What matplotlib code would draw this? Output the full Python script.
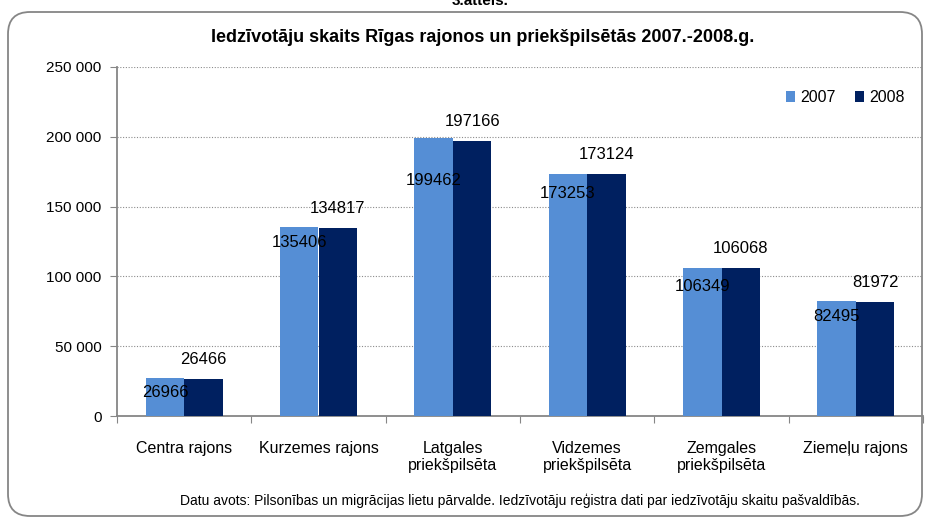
import numpy as np
import matplotlib.pyplot as plt
from matplotlib import font_manager
from matplotlib.patches import FancyBboxPatch

categories = ["Centra rajons", "Kurzemes rajons", "Latgales\npriekšpilsēta",
              "Vidzemes\npriekšpilsēta", "Zemgales\npriekšpilsēta", "Ziemeļu rajons"]
v2007 = [26966, 135406, 199462, 173253, 106349, 82495]
v2008 = [26466, 134817, 197166, 173124, 106068, 81972]
yticks = [0, 50000, 100000, 150000, 200000, 250000]

# label offsets (points) below the top of the 2007 bars, as placed in the original
lab_dy_2007 = [-10, -11.5, -31, -14, -14, -11.5]

names = {f.name for f in font_manager.fontManager.ttflist}
fam = "Liberation Sans Narrow" if "Liberation Sans Narrow" in names else "Liberation Sans"
plt.rcParams['font.family'] = [fam, 'DejaVu Sans']

c07 = '#558ED5'
c08 = '#002060'
grey = '#868686'

W, H = 925, 518
fig = plt.figure(figsize=(W / 100, H / 100), dpi=100)

# rounded frame
frame = FancyBboxPatch((8 / W, 2 / H), 914 / W, 504 / H,
                       boxstyle="round,pad=0,rounding_size=%f" % (22 / W),
                       transform=fig.transFigure, fill=False,
                       edgecolor=grey, linewidth=1.3, mutation_aspect=W / H)
fig.patches.append(frame)

# clipped caption from the page above
fig.text(480 / W, 1 - 5 / H, "3.attēls.", ha='center', va='baseline',
         fontsize=11, fontweight='bold')

ax = fig.add_axes([117 / W, 1 - 416 / H, 806 / W, 349 / H])
x = np.arange(len(categories))
w = 0.287
ax.bar(x - w / 2, v2007, w, color=c07, label='2007', zorder=3)
ax.bar(x + w / 2, v2008, w, color=c08, label='2008', zorder=3)

for xi, v, dy in zip(x, v2007, lab_dy_2007):
    ax.annotate(str(v), (xi - w / 2, v), xytext=(0, dy), textcoords='offset points',
                ha='center', va='center', fontsize=12, zorder=4)
for xi, v in zip(x, v2008):
    ax.annotate(str(v), (xi + w / 2, v), xytext=(0, 14), textcoords='offset points',
                ha='center', va='center', fontsize=12, zorder=4)

ax.set_xlim(-0.5, len(categories) - 0.5)
ax.set_ylim(0, 250000)
ax.set_yticks(yticks)
ax.set_yticklabels([f"{t:,}".replace(",", " ") for t in yticks], fontsize=11)
ax.yaxis.grid(True, linestyle=(0, (1, 1.5)), color='#8c8c8c', linewidth=0.8, zorder=0)

ax.set_xticks(np.arange(len(categories) + 1) - 0.5)
ax.set_xticklabels([])
ax.set_xticks(x, minor=True)
ax.set_xticklabels(categories, minor=True, fontsize=11.5)
ax.tick_params(axis='x', which='minor', length=0, pad=18)
ax.tick_params(axis='x', which='major', length=5, color=grey, direction='out')
ax.tick_params(axis='y', length=5, color=grey, pad=6)

for s in ['top', 'right']:
    ax.spines[s].set_visible(False)
ax.spines['left'].set_color(grey)
ax.spines['bottom'].set_color(grey)
ax.spines['left'].set_linewidth(1.3)
ax.spines['bottom'].set_linewidth(1.3)

ax.legend(loc='upper right', bbox_to_anchor=(0.995, 0.975), frameon=False, ncol=2,
          fontsize=11.5, handlelength=0.6, handleheight=0.6, handletextpad=0.3,
          columnspacing=1.2)

fig.text(483 / W, 1 - 38 / H, "Iedzīvotāju skaits Rīgas rajonos un priekšpilsētās 2007.-2008.g.",
         ha='center', va='center', fontsize=13, fontweight='bold')
fig.text(520 / W, 1 - 501 / H,
         "Datu avots: Pilsonības un migrācijas lietu pārvalde. Iedzīvotāju reģistra dati par iedzīvotāju skaitu pašvaldībās.",
         ha='center', va='center', fontsize=10)

fig.savefig('out.png', dpi=100)
